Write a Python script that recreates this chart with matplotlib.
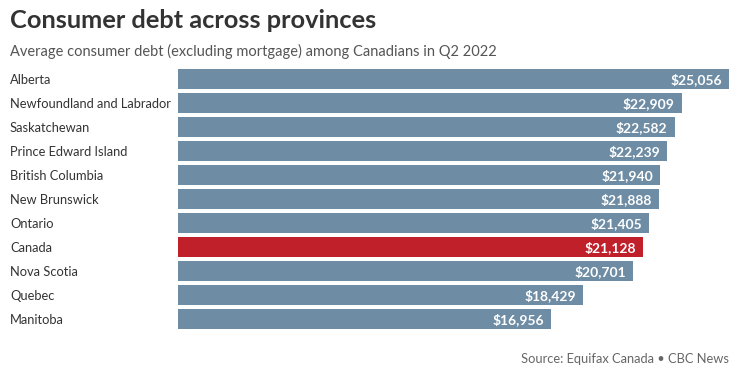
import matplotlib.pyplot as plt

provinces = ["Alberta", "Newfoundland and Labrador", "Saskatchewan", "Prince Edward Island",
             "British Columbia", "New Brunswick", "Ontario", "Canada", "Nova Scotia",
             "Quebec", "Manitoba"]
debt = [25056, 22909, 22582, 22239, 21940, 21888, 21405, 21128, 20701, 18429, 16956]

W, H = 749, 372
fig = plt.figure(figsize=(W / 100, H / 100), dpi=100)
plt.rcParams['font.family'] = ['Lato', 'DejaVu Sans']

# axes placed in pixel terms
left, right, top, bottom = 178, 740, 67, 331
ax = fig.add_axes([left / W, 1 - bottom / H, (right - left) / W, (bottom - top) / H])
px_per_unit = (729 - 178) / 25056
ax.set_xlim(0, (right - left) / px_per_unit)
ax.set_ylim(len(provinces) - 0.5, -0.5)

colors = ['#c0202a' if p == "Canada" else '#6e8ca3' for p in provinces]
ax.barh(range(len(provinces)), debt, height=0.83, color=colors)

for i, (p, v) in enumerate(zip(provinces, debt)):
    ax.text(-168 / px_per_unit, i + 0.06, p, ha='left', va='center', fontsize=9.3, color='#333333')
    ax.text(v - 7 / px_per_unit, i + 0.04, f"${v:,}", ha='right', va='center', fontsize=10,
            color='white', fontweight='bold')

ax.axis('off')

fig.text(10 / W, 1 - 21 / H, "Consumer debt across provinces", fontsize=18.3, fontweight='bold',
         color='#333333', va='center', ha='left')
fig.text(10 / W, 1 - 51 / H, "Average consumer debt (excluding mortgage) among Canadians in Q2 2022",
         fontsize=10.5, color='#555555', va='center', ha='left')
fig.text(729 / W, 1 - 359 / H, "Source: Equifax Canada \u2022 CBC News", fontsize=9.3,
         color='#666666', va='center', ha='right')

fig.savefig("out.png", dpi=100, facecolor='white')
